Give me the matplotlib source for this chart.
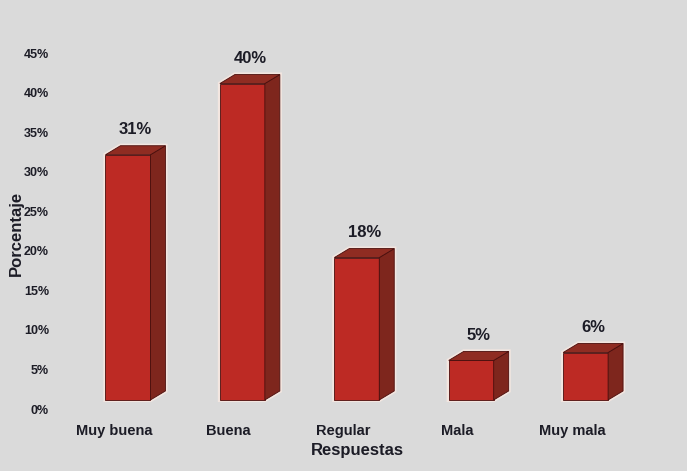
import numpy as np
import matplotlib.pyplot as plt
from matplotlib.patches import Polygon

plt.rcParams['font.family'] = ['Liberation Sans', 'DejaVu Sans']
plt.rcParams['font.weight'] = 'bold'

categorias = ['Muy buena', 'Buena', 'Regular', 'Mala', 'Muy mala']
porcentajes = [31, 40, 18, 5, 6]
etiquetas = ['31%', '40%', '18%', '5%', '6%']
yticks = np.arange(0, 50, 5)

bg = '#dadada'
front = '#bd2a24'
side = '#7e261d'
top = '#8f2c22'
edge = '#4a0e0c'
txt = '#1c1c26'

fig = plt.figure(figsize=(6.87, 4.71), dpi=100, facecolor=bg)
ax = fig.add_axes([60/687, 62/471, 620/687, 356/471])
ax.set_facecolor(bg)

w = 0.393    # front face width
dx = 0.131   # depth to the right
dy = 1.14    # depth upwards
base = 1.14

x = np.arange(len(categorias))
for xi, v, lab in zip(x, porcentajes, etiquetas):
    x0, x1 = xi - w/2, xi + w/2
    y0, y1 = base, base + v
    faces = [
        ([(x0, y0), (x1, y0), (x1, y1), (x0, y1)], front),
        ([(x1, y0), (x1 + dx, y0 + dy), (x1 + dx, y1 + dy), (x1, y1)], side),
        ([(x0, y1), (x1, y1), (x1 + dx, y1 + dy), (x0 + dx, y1 + dy)], top),
    ]
    outline = [(x0, y0), (x1, y0), (x1 + dx, y0 + dy), (x1 + dx, y1 + dy),
               (x0 + dx, y1 + dy), (x0, y1)]
    ax.add_patch(Polygon(outline, closed=True, facecolor='none',
                         edgecolor='#f3e6e0', lw=3, zorder=2))
    for pts, c in faces:
        ax.add_patch(Polygon(pts, closed=True, facecolor=c, edgecolor=edge,
                             lw=0.6, zorder=3))
    ax.annotate(lab, (xi + dx/2, y1 + dy), xytext=(0, 6),
                textcoords='offset points', ha='center', va='bottom',
                fontsize=12, fontweight='bold', color=txt)

ax.set_xlim(-0.594, 4.825)
ax.set_ylim(0, 45)
ax.set_yticks(yticks)
ax.set_yticklabels([f'{t}%' for t in yticks], fontsize=9, color=txt)
ax.set_xticks(x - 0.12)
ax.set_xticklabels(categorias, fontsize=10.5, color=txt)
ax.tick_params(length=0)
ax.tick_params(axis='y', pad=8)
ax.tick_params(axis='x', pad=11)
for s in ax.spines.values():
    s.set_visible(False)

ax.set_xlabel('Respuestas', fontsize=12, fontweight='bold', color=txt)
ax.set_ylabel('Porcentaje', fontsize=12, fontweight='bold', color=txt)
ax.xaxis.set_label_coords((357 - 60) / 620, -34 / 356)
ax.yaxis.set_label_coords((24 - 60) / 620, (409 - 233) / 356)

fig.savefig('out.png', dpi=100, facecolor=bg)
